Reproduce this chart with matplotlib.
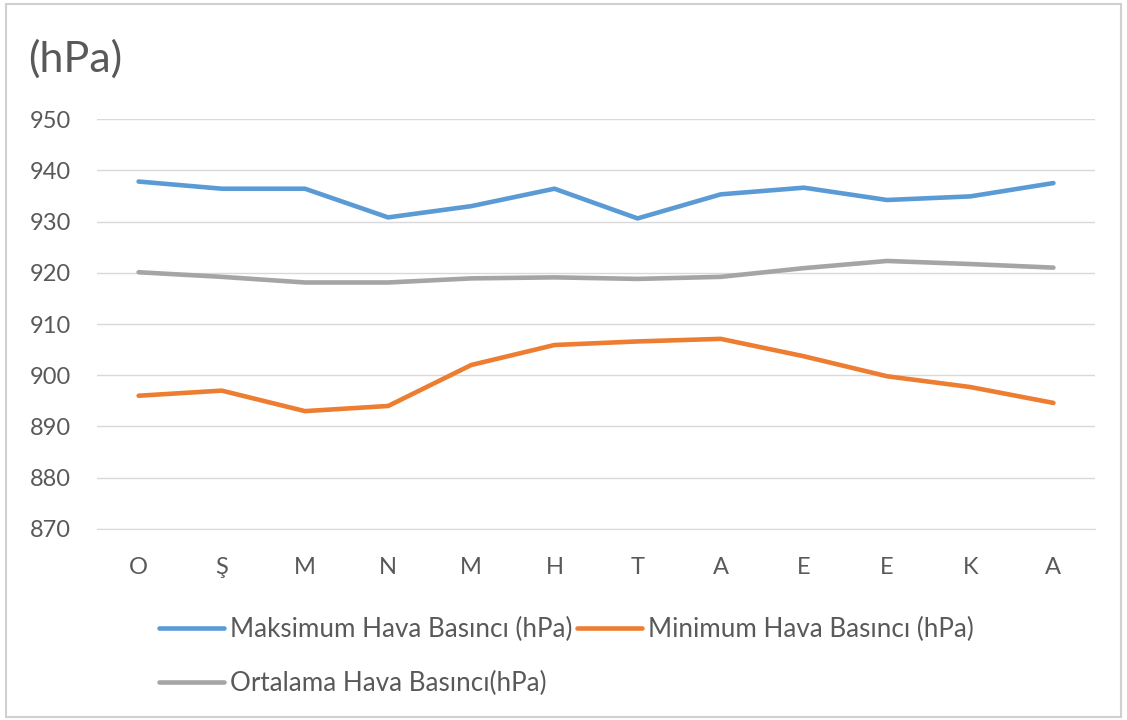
import matplotlib
matplotlib.use("Agg")
import matplotlib.pyplot as plt
from matplotlib.patches import Rectangle

months = ["O", "Ş", "M", "N", "M", "H", "T", "A", "E", "E", "K", "A"]
max_pressure = [937.8, 936.4, 936.4, 930.8, 933.0, 936.4, 930.6, 935.3, 936.6, 934.2, 934.9, 937.5]
min_pressure = [896.0, 897.0, 893.0, 894.0, 902.0, 905.9, 906.6, 907.1, 903.7, 899.8, 897.7, 894.6]
mean_pressure = [920.1, 919.2, 918.1, 918.1, 918.9, 919.1, 918.8, 919.2, 920.9, 922.3, 921.7, 921.0]
yticks = [870, 880, 890, 900, 910, 920, 930, 940, 950]

labels = ["Maksimum Hava Basıncı (hPa)", "Minimum Hava Basıncı (hPa)", "Ortalama Hava Basıncı(hPa)"]
colors = ["#5B9BD5", "#ED7D31", "#A5A5A5"]

plt.rcParams['font.family'] = ['Lato', 'DejaVu Sans']
text_color = "#595959"
grid_color = "#D9D9D9"

fig = plt.figure(figsize=(11.27, 7.2), dpi=100)
fig.patches.append(Rectangle((0.005, 0.004), 0.99, 0.99, transform=fig.transFigure,
                             fill=False, edgecolor="#D0D0D0", linewidth=1.5))

ax = fig.add_axes([0.0861, 0.2653, 0.8855, 0.5694])
x = list(range(len(months)))
h1, = ax.plot(x, max_pressure, color=colors[0], lw=3.3, solid_capstyle='round', label=labels[0])
h2, = ax.plot(x, min_pressure, color=colors[1], lw=3.3, solid_capstyle='round', label=labels[1])
h3, = ax.plot(x, mean_pressure, color=colors[2], lw=3.3, solid_capstyle='round', label=labels[2])

ax.set_xlim(-0.5, len(months) - 0.5)
ax.set_ylim(870, 950)
ax.set_yticks(yticks)
ax.set_xticks(x)
ax.set_xticklabels(months)
ax.grid(axis='y', color=grid_color, lw=1)
ax.set_axisbelow(True)
for s in ["top", "right", "left"]:
    ax.spines[s].set_visible(False)
ax.spines["bottom"].set_color(grid_color)
ax.tick_params(axis='both', length=0, labelsize=17, colors=text_color)
ax.tick_params(axis='y', pad=18.5)
ax.tick_params(axis='x', pad=20)

fig.text(0.025, 0.918, "(hPa)", fontsize=31, color=text_color, va='center', ha='left')

leg = fig.legend(handles=[h1, h3, h2], labels=[labels[0], labels[2], labels[1]], ncol=2,
                 loc='upper left', bbox_to_anchor=(0.141, 0.143), frameon=False,
                 fontsize=18.7, labelcolor=text_color, handlelength=2.5, handletextpad=0.25,
                 columnspacing=0.15, labelspacing=1.12, borderpad=0, borderaxespad=0)

fig.savefig("out.png", dpi=100)
